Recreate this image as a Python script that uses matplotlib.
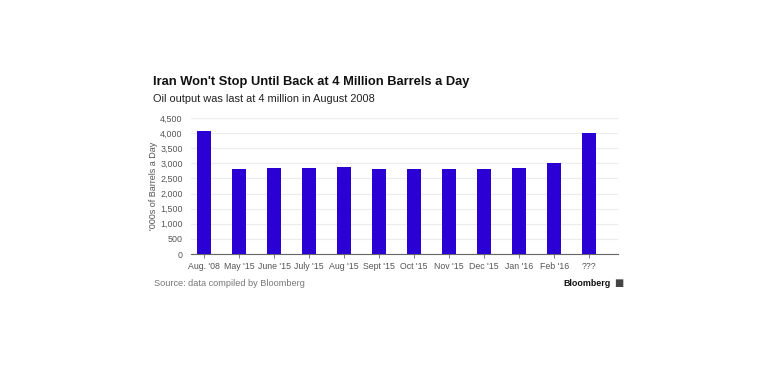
import numpy as np
import matplotlib.pyplot as plt

months = ["Aug. '08", "May '15", "June '15", "July '15", "Aug '15", "Sept '15",
          "Oct '15", "Nov '15", "Dec '15", "Jan '16", "Feb '16", "???"]
output = [4070, 2800, 2850, 2850, 2880, 2800, 2800, 2800, 2800, 2845, 3000, 4000]

bar_color = '#2b00d4'
grid_color = '#ececec'
text_gray = '#555555'

plt.rcParams['font.family'] = ['Liberation Sans', 'DejaVu Sans']

fig = plt.figure(figsize=(7.8, 3.9), dpi=100)
ax = fig.add_axes([191/780, 1 - 254/390, (618-191)/780, (254-118)/390])

ind = np.arange(len(months))
ax.bar(ind, output, 0.4, color=bar_color, zorder=3)

ax.set_ylim(0, 4500)
ax.set_xlim(-0.37, 11.82)
ax.set_yticks(np.arange(0, 4501, 500))
ax.set_yticklabels(['{:,}'.format(v) for v in range(0, 4501, 500)])
ax.set_xticks(ind)
ax.set_xticklabels(months)
ax.yaxis.grid(True, color=grid_color, lw=0.8, zorder=0)

for s in ['top', 'right', 'left']:
    ax.spines[s].set_visible(False)
ax.spines['bottom'].set_color('#666666')
ax.spines['bottom'].set_linewidth(0.8)
ax.tick_params(axis='y', length=0, labelsize=6.4, colors=text_gray, pad=6)
ax.tick_params(axis='x', length=3, width=0.6, color='#666666', labelsize=6.3,
               colors=text_gray, pad=3)
ax.set_ylabel("'000s of Barrels a Day", fontsize=6.5, color=text_gray, labelpad=1.5)

fig.text(153/780, 1 - 82/390, "Iran Won't Stop Until Back at 4 Million Barrels a Day",
         fontsize=9.3, fontweight='bold', color='#111111', va='center', ha='left')
fig.text(153/780, 1 - 99/390, "Oil output was last at 4 million in August 2008",
         fontsize=7.9, color='#222222', va='center', ha='left')
fig.text(154/780, 1 - 284/390, "Source: data compiled by Bloomberg",
         fontsize=6.6, color='#777777', va='center', ha='left')
fig.text(611/780, 1 - 284/390, "Bloomberg",
         fontsize=6.4, fontweight='bold', color='#111111', va='center', ha='right')
fig.text(623/780, 1 - 283/390, "\u25a0", fontsize=7, color='#444444',
         va='center', ha='right', family='DejaVu Sans')

fig.savefig('out.png', dpi=100)
